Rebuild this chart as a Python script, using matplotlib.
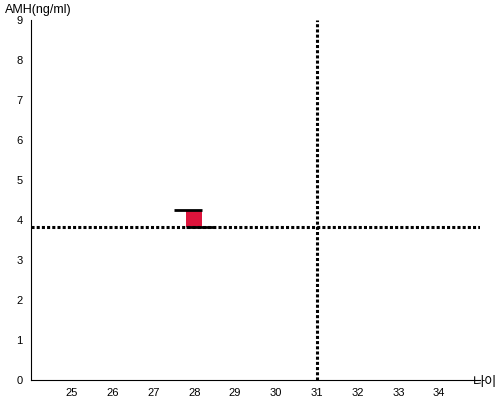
import matplotlib.pyplot as plt

plt.rcParams['font.family'] = ['Liberation Sans', 'Noto Sans CJK KR', 'DejaVu Sans']

ages = [25, 26, 27, 28, 29, 30, 31, 32, 33, 34]
yticks = [0, 1, 2, 3, 4, 5, 6, 7, 8, 9]
my_age = 28
amh_low = 3.83
amh_high = 4.25
avg_age = 31
avg_amh = 3.83

fig = plt.figure(figsize=(5, 4), dpi=100)
ax = fig.add_axes([0.062, 0.05, 0.898, 0.9])

dots = (0, (1, 0.7))
ax.axhline(avg_amh, color='black', linestyle=dots, linewidth=2.2)
ax.axvline(avg_age, color='black', linestyle=dots, linewidth=2.2)

ax.bar(my_age, amh_high - amh_low, bottom=amh_low, width=0.4, color='#dc143c')
ax.hlines(amh_high, my_age - 0.5, my_age + 0.2, color='black', linewidth=2)
ax.hlines(amh_low, my_age - 0.2, my_age + 0.5, color='black', linewidth=2)

ax.set_xlim(24, 35)
ax.set_ylim(0, 9)
ax.set_xticks(ages)
ax.set_yticks(yticks)
ax.tick_params(length=0, labelsize=8, pad=6)
ax.spines['top'].set_visible(False)
ax.spines['right'].set_visible(False)

fig.text(0.01, 0.975, 'AMH(ng/ml)', fontsize=9, va='center', ha='left')
fig.text(0.946, 0.042, '나이', fontsize=9.5, va='center', ha='left')

fig.savefig('out.png')
